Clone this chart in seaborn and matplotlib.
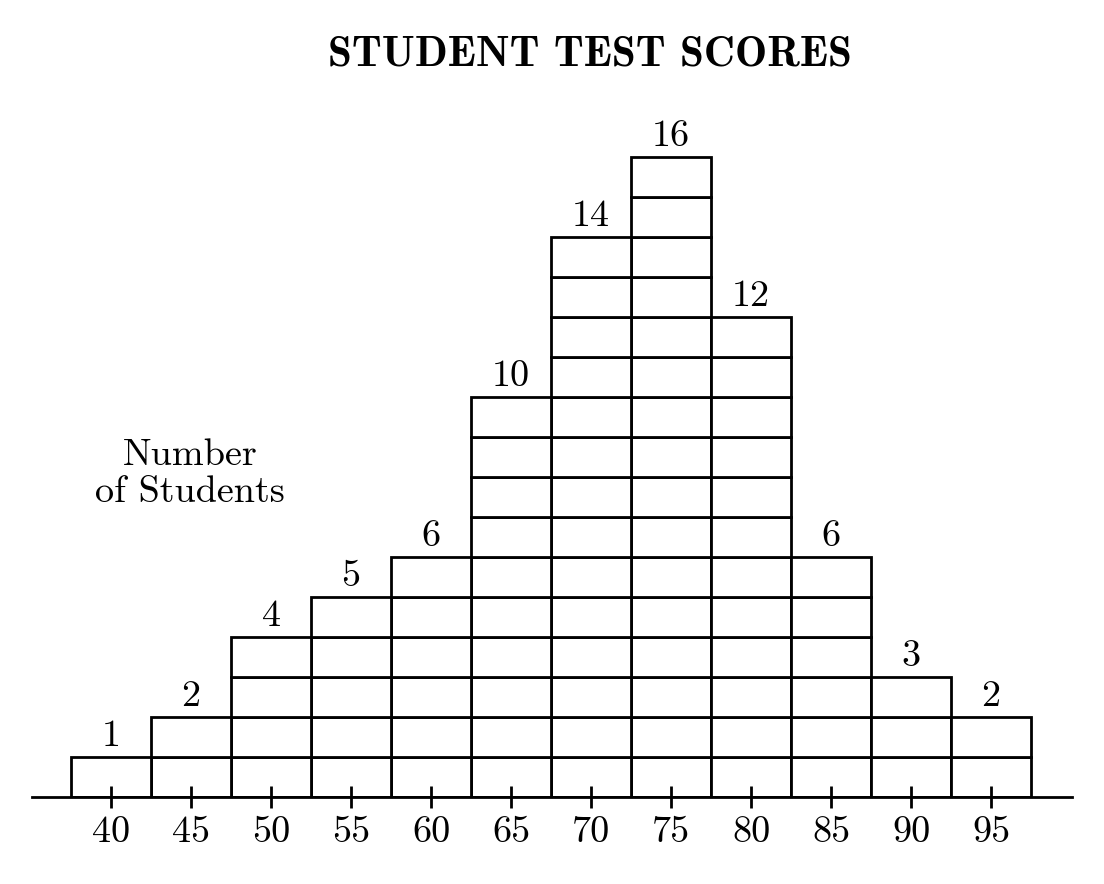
import numpy as np
import pandas as pd
import matplotlib
matplotlib.use("Agg")
import matplotlib.pyplot as plt
import seaborn as sns

# data
scores = [40, 45, 50, 55, 60, 65, 70, 75, 80, 85, 90, 95]
counts = [1, 2, 4, 5, 6, 10, 14, 16, 12, 6, 3, 2]
title = "STUDENT TEST SCORES"
side_label = "Number\nof Students"

# one row per student, level = position in the stack (one cell each)
rows = [(s, lvl) for s, c in zip(scores, counts) for lvl in range(1, c + 1)]
df = pd.DataFrame(rows, columns=["score", "level"])

sns.set_style("white")
plt.rcParams["font.family"] = ["cmr10", "DejaVu Serif"]
plt.rcParams["axes.formatter.use_mathtext"] = True
plt.rcParams["text.color"] = "black"

W, H = 1104, 884
FS = 27.5
LW = 2.0
fig = plt.figure(figsize=(W / 100, H / 100), dpi=100)
ax = fig.add_axes([32 / W, 87 / H, 1040 / W, 700 / H])

edges = np.arange(scores[0] - 2.5, scores[-1] + 5, 5)
n_levels = df["level"].nunique()
sns.histplot(data=df, x="score", hue="level", multiple="stack", bins=edges,
             palette=["white"] * n_levels, edgecolor="black", linewidth=LW,
             alpha=1, legend=False, ax=ax)

ax.set_axisbelow(False)  # ticks drawn over the bottom cells
ax.set_xlim(35.06, 100.06)
ax.set_ylim(0, 17.5)
ax.set_xlabel("")
ax.set_ylabel("")
ax.set_yticks([])
ax.set_xticks(scores)
ax.set_xticklabels([str(s) for s in scores])
ax.tick_params(axis="x", bottom=True, direction="inout", length=16, width=LW,
               pad=5.5, labelsize=FS, colors="black", labelcolor="black")
for side in ["top", "left", "right"]:
    ax.spines[side].set_visible(False)
ax.spines["bottom"].set_linewidth(LW)
ax.spines["bottom"].set_color("black")
ax.spines["bottom"].set_zorder(3)

for s, c in zip(scores, counts):
    ax.text(s, c + 0.28, str(c), ha="center", va="baseline", fontsize=FS)

fig.text(590 / W, 1 - 66 / H, title, ha="center", va="baseline",
         fontsize=31, family="cmb10")
fig.text(190 / W, 1 - 474 / H, side_label, ha="center", va="center",
         fontsize=FS, linespacing=1.15)

fig.savefig("out.png", dpi=100)
